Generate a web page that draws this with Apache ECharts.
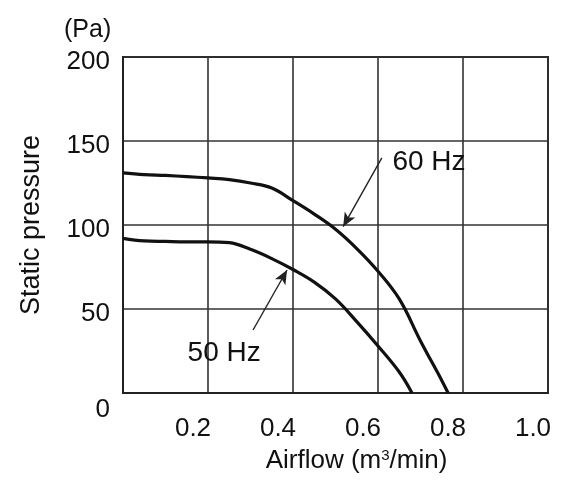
<!DOCTYPE html>
<html>
<head>
<meta charset="utf-8">
<script src="https://cdn.jsdelivr.net/npm/echarts@6/dist/echarts.min.js"></script>
<style>
html, body { margin: 0; padding: 0; background: #fff; }
#main { width: 575px; height: 484px; }
</style>
</head>
<body>
<div id="main"></div>
<script>
// airflow (m3/min) vs static pressure (Pa)
const flow60 = [0, 0.05, 0.1, 0.15, 0.2, 0.25, 0.3, 0.35, 0.4, 0.45, 0.5, 0.55, 0.6, 0.65, 0.7, 0.75, 0.765];
const pres60 = [131, 130, 129.5, 128.8, 128, 127, 125, 122, 114.5, 106.5, 97.5, 86, 72.5, 56, 31, 7.5, 0];
const flow50 = [0, 0.05, 0.1, 0.15, 0.2, 0.25, 0.3, 0.35, 0.4, 0.45, 0.5, 0.55, 0.6, 0.65, 0.68];
const pres50 = [92, 90.5, 90.2, 90, 90, 89.5, 85.5, 80, 73.5, 66, 56, 42.5, 28, 12.5, 0];
const xTicks = [0.2, 0.4, 0.6, 0.8, 1.0];
const yTicks = [0, 50, 100, 150, 200];

const zip = (xs, ys) => xs.map((x, i) => [x, ys[i]]);
const font = 'Liberation Sans';
const ink = '#111';

const arrow = (from, to) => [{ coord: from }, { coord: to }];

const option = {
  animation: false,
  backgroundColor: '#fff',
  textStyle: { fontFamily: font },
  grid: {
    left: 123, right: 27, top: 57, bottom: 91,
    show: true, borderColor: '#222', borderWidth: 2
  },
  graphic: [{
    type: 'text', left: 64, top: 18,
    style: { text: '(Pa)', font: '25px "Liberation Sans"', fill: ink }
  }],
  xAxis: {
    type: 'value', min: 0, max: 1.0, interval: 0.2,
    name: 'Airflow (m{sup|3}/min)',
    nameLocation: 'middle', nameGap: 55,
    nameTextStyle: {
      fontSize: 26, color: ink, padding: [0, 0, 0, 42],
      rich: { sup: { fontSize: 15, verticalAlign: 'top', padding: [0, 0, 11, 0], color: ink } }
    },
    axisLine: { show: true, lineStyle: { color: '#222', width: 2 } },
    axisTick: { show: false },
    axisLabel: {
      fontSize: 26, color: ink, margin: 23, padding: [0, 30, 0, 0],
      formatter: v => xTicks.includes(+v.toFixed(1)) ? v.toFixed(1) : ''
    },
    splitLine: { show: true, lineStyle: { color: '#333', width: 1.6 } }
  },
  yAxis: {
    type: 'value', min: 0, max: 200, interval: 50,
    name: 'Static pressure',
    nameLocation: 'middle', nameGap: 78, nameRotate: 90,
    nameTextStyle: { fontSize: 27, color: ink },
    axisLine: { show: true, lineStyle: { color: '#222', width: 2 } },
    axisTick: { show: false },
    axisLabel: {
      fontSize: 26, color: ink, margin: 13, padding: [10, 0, 0, 0],
      formatter: v => yTicks.includes(v) ? (v === 0 ? '{z|0}' : String(v)) : '',
      rich: { z: { fontSize: 26, color: ink, padding: [24, 0, 0, 0] } }
    },
    splitLine: { show: true, lineStyle: { color: '#333', width: 1.6 } }
  },
  series: [
    {
      name: '60 Hz', type: 'line', data: zip(flow60, pres60),
      smooth: 0.4, showSymbol: false,
      lineStyle: { color: '#111', width: 3.2 },
      markLine: {
        silent: true, symbol: ['none', 'arrow'], symbolSize: [9, 14],
        label: { show: false },
        lineStyle: { color: '#222', width: 1.4, type: 'solid' },
        data: [arrow([0.609, 140], [0.518, 99])]
      },
      markPoint: {
        silent: true, symbol: 'circle', symbolSize: 0,
        label: { show: true, position: 'inside', fontSize: 28, color: ink, formatter: '60 Hz' },
        data: [{ coord: [0.72, 137.5] }]
      }
    },
    {
      name: '50 Hz', type: 'line', data: zip(flow50, pres50),
      smooth: 0.4, showSymbol: false,
      lineStyle: { color: '#111', width: 3.2 },
      markLine: {
        silent: true, symbol: ['none', 'arrow'], symbolSize: [9, 14],
        label: { show: false },
        lineStyle: { color: '#222', width: 1.4, type: 'solid' },
        data: [arrow([0.306, 37.5], [0.386, 73.2])]
      },
      markPoint: {
        silent: true, symbol: 'circle', symbolSize: 0,
        label: { show: true, position: 'inside', fontSize: 28, color: ink, formatter: '50 Hz' },
        data: [{ coord: [0.238, 23.8] }]
      }
    }
  ]
};

const chart = echarts.init(document.getElementById('main'));
chart.setOption(option);
</script>
</body>
</html>
